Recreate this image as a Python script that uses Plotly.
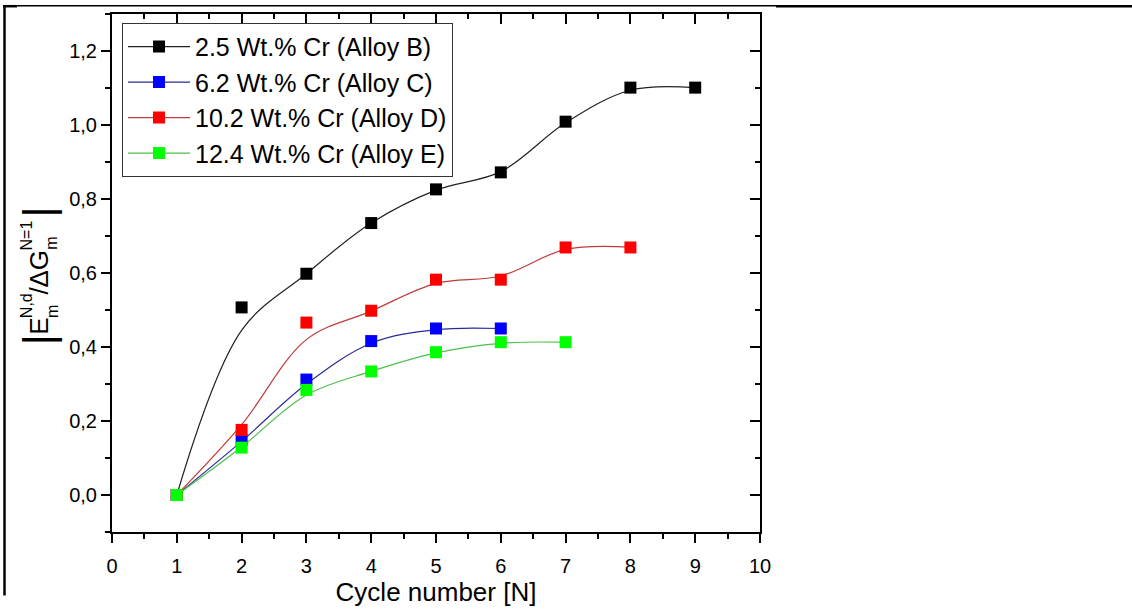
import plotly.graph_objects as go

# ---- data ----
names = ["2.5 Wt.% Cr (Alloy B)", "6.2 Wt.% Cr (Alloy C)",
         "10.2 Wt.% Cr (Alloy D)", "12.4 Wt.% Cr (Alloy E)"]

x_B = [1, 2, 3, 4, 5, 6, 7, 8, 9]
y_B = [0.0, 0.507, 0.598, 0.735, 0.826, 0.872, 1.009, 1.101, 1.101]
fit_B = [0.0, 0.445, 0.598, 0.735, 0.824, 0.874, 1.006, 1.094, 1.101]

x_C = [1, 2, 3, 4, 5, 6]
y_C = [0.0, 0.149, 0.312, 0.416, 0.450, 0.450]
fit_C = [0.0, 0.145, 0.300, 0.410, 0.447, 0.450]

x_D = [1, 2, 3, 4, 5, 6, 7, 8]
y_D = [0.0, 0.176, 0.466, 0.498, 0.582, 0.582, 0.669, 0.669]
fit_D = [0.0, 0.190, 0.420, 0.497, 0.572, 0.592, 0.664, 0.670]

x_E = [1, 2, 3, 4, 5, 6, 7]
y_E = [0.0, 0.128, 0.284, 0.334, 0.386, 0.413, 0.413]
fit_E = [0.0, 0.130, 0.270, 0.334, 0.384, 0.410, 0.413]

marker_colors = ["#000000", "#0000ff", "#ff0000", "#00ff00"]
line_colors = ["#222222", "#2a2a9a", "#c03a3a", "#4cc04c"]

xs = [x_B, x_C, x_D, x_E]
ys = [y_B, y_C, y_D, y_E]
fits = [fit_B, fit_C, fit_D, fit_E]

FONT = "Arial, Liberation Sans, sans-serif"

fig = go.Figure()

for i in range(4):
    fig.add_trace(go.Scatter(
        x=xs[i], y=fits[i], mode="lines",
        line=dict(color=line_colors[i], width=1.2, shape="spline", smoothing=1.0),
        showlegend=False, hoverinfo="skip"))
for i in range(4):
    fig.add_trace(go.Scatter(
        x=xs[i], y=ys[i], mode="markers",
        marker=dict(symbol="square", size=12, color=marker_colors[i]),
        showlegend=False))
for i in range(4):
    fig.add_trace(go.Scatter(
        x=[None], y=[None], mode="lines+markers", name=names[i],
        line=dict(color=line_colors[i], width=1.2),
        marker=dict(symbol="square", size=12, color=marker_colors[i]),
        showlegend=True))

# dummy trace for mirror axes (inside ticks on top/right)
fig.add_trace(go.Scatter(x=[None], y=[None], xaxis="x2", yaxis="y2",
                         showlegend=False, hoverinfo="skip"))

L, R, T, B = 112, 760, 13, 544
W, H = 1132, 610

axis_common = dict(showgrid=False, zeroline=False)

fig.update_layout(
    width=W, height=H,
    margin=dict(l=L, r=W - R, t=T, b=H - B),
    paper_bgcolor="white", plot_bgcolor="white",
    separators=",.",
    font=dict(family=FONT, color="black", size=20),
    xaxis=dict(
        range=[0, 10], tick0=0, dtick=1, ticks="outside", ticklen=9, tickwidth=2,
        tickcolor="black", showline=True, linewidth=2, linecolor="black", mirror=True,
        tickfont=dict(size=20, family=FONT), ticklabelstandoff=6,
        minor=dict(ticks="outside", dtick=0.5, ticklen=5, tickwidth=2, tickcolor="black"),
        title=dict(text="Cycle number [N]", font=dict(size=26, family=FONT), standoff=3),
        **axis_common),
    yaxis=dict(
        range=[-0.1, 1.3], tick0=0, dtick=0.2, tickformat=".1f", ticks="outside",
        ticklen=9, tickwidth=2, tickcolor="black", showline=True, linewidth=2,
        linecolor="black", mirror=True, tickfont=dict(size=20, family=FONT),
        minor=dict(ticks="outside", dtick=0.1, ticklen=5, tickwidth=2, tickcolor="black"),
        **axis_common),
    xaxis2=dict(
        range=[0, 10], overlaying="x", side="top", anchor="y2", tick0=0, dtick=1,
        ticks="inside", ticklen=10, tickwidth=2, tickcolor="black",
        showticklabels=False, showline=False,
        minor=dict(ticks="inside", dtick=0.5, ticklen=5, tickwidth=2, tickcolor="black"),
        **axis_common),
    yaxis2=dict(
        range=[-0.1, 1.3], overlaying="y", side="right", anchor="x2", tick0=0, dtick=0.2,
        ticks="inside", ticklen=10, tickwidth=2, tickcolor="black",
        showticklabels=False, showline=False,
        minor=dict(ticks="inside", dtick=0.1, ticklen=5, tickwidth=2, tickcolor="black"),
        **axis_common),
    legend=dict(
        x=(122 - L) / (R - L), y=(B - 22) / (B - T), xanchor="left", yanchor="top",
        bgcolor="white", bordercolor="#333333", borderwidth=1,
        font=dict(size=25, family=FONT), itemwidth=62, tracegroupgap=0),
)


def px_x(px):
    return (px - L) / (R - L)


def px_y(py):
    return (B - py) / (B - T)


# y axis title |E_m^{N,d} / ΔG_m^{N=1}| built from rotated text pieces
title_parts = [
    ("|", 42, 38.5, 347),
    ("E", 26, 39, 333.5),
    ("m", 16, 52, 318.5),
    ("N,d", 16, 26, 312.5),
    ("/", 26, 39, 296.5),
    ("ΔG", 26, 39, 274),
    ("m", 16, 52, 248.5),
    ("N=1", 16, 26, 240),
    ("|", 42, 38.5, 216),
]
for txt, size, px, py in title_parts:
    fig.add_annotation(
        xref="paper", yref="paper", x=px_x(px), y=px_y(py), text=txt,
        textangle=-90, showarrow=False, xanchor="center", yanchor="middle",
        font=dict(size=size, family=FONT, color="black"))

# page frame lines (table cell borders)
fig.add_shape(type="line", xref="paper", yref="paper",
              x0=px_x(3), x1=px_x(776), y0=px_y(4.5), y1=px_y(4.5),
              line=dict(width=1.5, color="black"))
fig.add_shape(type="line", xref="paper", yref="paper",
              x0=px_x(776), x1=px_x(1132), y0=px_y(5), y1=px_y(5),
              line=dict(width=2.5, color="black"))
fig.add_shape(type="line", xref="paper", yref="paper",
              x0=px_x(3), x1=px_x(17), y0=px_y(5), y1=px_y(5),
              line=dict(width=2.5, color="black"))
fig.add_shape(type="line", xref="paper", yref="paper",
              x0=px_x(4.5), x1=px_x(4.5), y0=px_y(609), y1=px_y(4),
              line=dict(width=2.5, color="black"))

fig.write_html("out.html")
